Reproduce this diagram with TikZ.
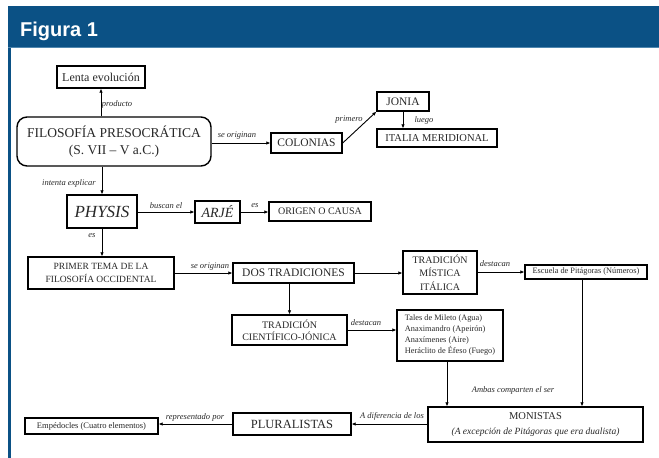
\documentclass[tikz,border=0pt]{standalone}
\usepackage{fontspec}
\setmainfont{Liberation Serif}
\newfontfamily\hdrfont{Liberation Sans}
\usetikzlibrary{arrows.meta}
\definecolor{hdrblue}{RGB}{11,81,133}
\definecolor{hdrline}{RGB}{80,135,175}
\definecolor{txt}{RGB}{40,40,40}
\newcommand{\myfs}[2]{\fontsize{#1}{#2}\selectfont}
\tikzset{
 bx/.style={draw=black, line width=1.4pt, inner sep=0pt, align=center, text=txt},
 lbl/.style={font=\itshape\myfs{8.5}{10}, text=txt, inner sep=0pt},
 arr/.style={draw=black, line width=0.9pt, -{Latex[length=4pt,width=3.6pt]}},
}
\begin{document}
\begin{tikzpicture}[x=1pt,y=-1pt]
\useasboundingbox (0,0) rectangle (659,458);
\fill[white] (0,0) rectangle (659,458);
\fill[hdrblue] (8,6) rectangle (659,47);
\fill[hdrline] (8,46.5) rectangle (659,48);
\fill[hdrblue] (8,48) rectangle (11,458);
\node[anchor=base west, text=white, font=\hdrfont\bfseries\myfs{20}{24}, inner sep=0pt] (title) at (20,36) {Figura 1};

% boxes
\node[bx, minimum width=88pt, minimum height=22pt, font=\myfs{12}{14}] (lenta) at (101,77) {Lenta evolución};
\node[bx, rounded corners=10pt, minimum width=194pt, minimum height=49pt, font=\myfs{13.5}{17}] (fil) at (114,141.5) {FILOSOFÍA PRESOCRÁTICA\\(S. VII – V a.C.)};
\node[bx, minimum width=71pt, minimum height=20pt, font=\myfs{11.5}{13}] (col) at (306.5,143) {COLONIAS};
\node[bx, minimum width=52pt, minimum height=19pt, font=\myfs{11.5}{13}] (jon) at (403,101.5) {JONIA};
\node[bx, minimum width=120pt, minimum height=18pt, font=\myfs{10.5}{12}] (ita) at (437,138) {ITALIA MERIDIONAL};
\node[bx, minimum width=70pt, minimum height=33pt, font=\itshape\myfs{17}{19}] (phy) at (102,211.5) {PHYSIS};
\node[bx, minimum width=45pt, minimum height=22pt, font=\itshape\myfs{14}{16}] (arj) at (217.5,212) {ARJÉ};
\node[bx, minimum width=102pt, minimum height=19pt, font=\myfs{10}{12}] (ori) at (320,211.5) {ORIGEN O CAUSA};
\node[bx, minimum width=146pt, minimum height=32pt, font=\myfs{9.5}{13}] (pri) at (101,273) {PRIMER TEMA DE LA\\FILOSOFÍA OCCIDENTAL};
\node[bx, minimum width=121pt, minimum height=20pt, font=\myfs{11.5}{13}] (dos) at (293.5,273) {DOS TRADICIONES};
\node[bx, minimum width=74pt, minimum height=43pt, font=\myfs{10}{13.5}] (tmi) at (440,272.5) {TRADICIÓN\\MÍSTICA\\ITÁLICA};
\node[bx, minimum width=122pt, minimum height=14pt, font=\myfs{8.3}{10}] (esc) at (586,272) {Escuela de Pitágoras (Números)};
\node[bx, minimum width=115pt, minimum height=30pt, font=\myfs{10}{12}] (tcj) at (289.5,330) {TRADICIÓN\\CIENTÍFICO-JÓNICA};
\node[bx, minimum width=106pt, minimum height=51pt, align=left, font=\myfs{8.3}{11}] (tal) at (450,335.5) {Tales de Mileto (Agua)\\Anaximandro (Apeirón)\\Anaxímenes (Aire)\\Heráclito de Éfeso (Fuego)};
\node[bx, minimum width=215pt, minimum height=35pt, font=\myfs{10.5}{15}] (mon) at (535.5,424.5) {MONISTAS\\{\itshape\myfs{9.5}{12}(A excepción de Pitágoras que era dualista)}};
\node[bx, minimum width=118pt, minimum height=22pt, font=\myfs{12.5}{14}] (plu) at (292,424) {PLURALISTAS};
\node[bx, minimum width=133pt, minimum height=16pt, font=\myfs{8.5}{10}] (emp) at (91.5,426) {Empédocles (Cuatro elementos)};

% helper coordinates
\coordinate (cE) at (582,0);
\coordinate (cT) at (447,0);

% connectors
\draw[arr] (fil.north -| lenta.south) -- (lenta.south);
\draw[arr] (fil.east |- col.west) -- (col.west);
\draw[arr] (col.east) -- (jon.south west);
\draw[arr] (jon.south) -- (jon.south |- ita.north);
\draw[arr] (fil.south -| phy.north) -- (phy.north);
\draw[arr] (phy.east |- arj.west) -- (arj.west);
\draw[arr] (arj.east) -- (arj.east -| ori.west);
\draw[arr] (phy.south) -- (phy.south |- pri.north);
\draw[arr] (pri.east |- dos.west) -- (dos.west);
\draw[arr] (dos.east) -- (dos.east -| tmi.west);
\draw[arr] (tmi.east |- esc.west) -- (esc.west);
\draw[arr] (esc.south -| cE) -- (mon.north -| cE);
\draw[arr] (dos.south -| tcj.north) -- (tcj.north);
\draw[arr] (tcj.east) -- (tcj.east -| tal.west);
\draw[arr] (tal.south -| cT) -- (mon.north -| cT);
\draw[arr] (mon.west |- plu.east) -- (plu.east);
\draw[arr] (plu.west) -- (plu.west -| emp.east);

% labels
\node[lbl] (l1) at (117,104) {producto};
\node[lbl] (l2) at (237,136) {se originan};
\node[lbl] (l3) at (349,120) {primero};
\node[lbl] (l4) at (424,120) {luego};
\node[lbl] (l5) at (69,183) {intenta explicar};
\node[lbl] (l6) at (166,206) {buscan el};
\node[lbl] (l7) at (255,206) {es};
\node[lbl] (l8) at (92,236) {es};
\node[lbl] (l9) at (210,267) {se originan};
\node[lbl] (l10) at (495,264) {destacan};
\node[lbl] (l11) at (366,323) {destacan};
\node[lbl] (l12) at (513,390) {Ambas comparten el ser};
\node[lbl] (l13) at (392,416) {A diferencia de los};
\node[lbl] (l14) at (195,417) {representado por};
\end{tikzpicture}
\end{document}
